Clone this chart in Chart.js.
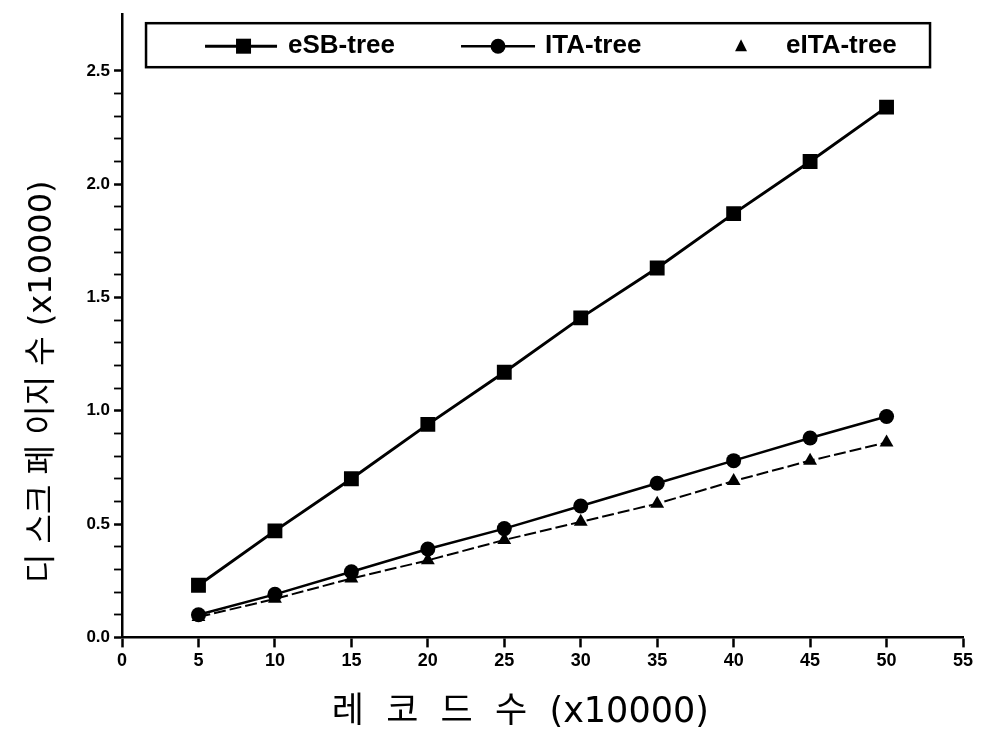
<!DOCTYPE html>
<html><head><meta charset="utf-8">
<script src="https://cdn.jsdelivr.net/npm/chart.js@4/dist/chart.umd.min.js"></script>
<style>html,body{margin:0;padding:0;background:#fff}#wrap{width:990px;height:737px}</style>
</head><body><div id="wrap"><canvas id="c" width="990" height="737"></canvas></div>
<script>
const records = [5, 10, 15, 20, 25, 30, 35, 40, 45, 50];
const esbTree = [0.23, 0.47, 0.70, 0.94, 1.17, 1.41, 1.63, 1.87, 2.10, 2.34];
const itaTree = [0.10, 0.19, 0.29, 0.39, 0.48, 0.58, 0.68, 0.78, 0.88, 0.975];
const eitaTree = [0.09, 0.17, 0.26, 0.34, 0.43, 0.51, 0.59, 0.69, 0.78, 0.86];
const seriesNames = ['eSB-tree', 'ITA-tree', 'eITA-tree'];
const xTickLabels = [0, 5, 10, 15, 20, 25, 30, 35, 40, 45, 50, 55];
const yTickLabels = [0.0, 0.5, 1.0, 1.5, 2.0, 2.5];
// trailing spaces nudge the centred titles to where the reference places them
const xTitle = '레  코  드  수  (x10000)    ';
const yTitle = '디 스크 페 이지 수 (x10000)           ';

const pts = (ys) => records.map((x, i) => ({x: x, y: ys[i]}));
const isMajorY = (v) => yTickLabels.some(t => Math.abs(t - v) < 1e-6);
const titleFont = '"DejaVu Sans", "Noto Sans CJK KR", sans-serif';

const bgPlugin = {
  id: 'bg',
  beforeDraw(chart) {
    const c = chart.ctx; c.save(); c.fillStyle = '#fff';
    c.fillRect(0, 0, chart.width, chart.height); c.restore();
  }
};

const legendBox = {
  id: 'legendBox',
  afterDraw(chart) {
    const c = chart.ctx, a = chart.chartArea;
    const L = a.left + 24, T = a.top + 9, R = a.left + 808, B = a.top + 53;
    c.save();
    c.strokeStyle = '#000'; c.lineWidth = 2.5;
    c.fillStyle = '#fff';
    c.fillRect(L, T, R - L, B - T);
    c.strokeRect(L, T, R - L, B - T);
    const cy = (T + B) / 2 + 1;
    c.font = 'bold 26px "Liberation Sans", Arial, sans-serif';
    c.textBaseline = 'middle'; c.fillStyle = '#000';
    // eSB
    c.lineWidth = 3; c.beginPath(); c.moveTo(L + 59, cy); c.lineTo(L + 131, cy); c.stroke();
    c.fillRect(L + 90, cy - 7.5, 15, 15);
    c.fillText(chart.data.datasets[0].label, L + 142, cy);
    // ITA
    c.lineWidth = 2.5; c.beginPath(); c.moveTo(L + 315, cy); c.lineTo(L + 389, cy); c.stroke();
    c.beginPath(); c.arc(L + 352, cy, 7.5, 0, Math.PI * 2); c.fill();
    c.fillText(chart.data.datasets[1].label, L + 399, cy);
    // eITA
    const tx = L + 595;
    c.beginPath(); c.moveTo(tx, cy - 7); c.lineTo(tx + 6, cy + 5); c.lineTo(tx - 6, cy + 5); c.closePath(); c.fill();
    c.fillText(chart.data.datasets[2].label, L + 640, cy);
    c.restore();
  }
};

new Chart(document.getElementById('c'), {
  type: 'line',
  data: {
    datasets: [
      {label: seriesNames[0], data: pts(esbTree), borderColor: '#000', backgroundColor: '#000',
       borderWidth: 3, pointStyle: 'rect', pointRadius: 10.5, pointBorderWidth: 0, tension: 0},
      {label: seriesNames[1], data: pts(itaTree), borderColor: '#000', backgroundColor: '#000',
       borderWidth: 2.5, pointStyle: 'circle', pointRadius: 7.5, pointBorderWidth: 0, tension: 0},
      {label: seriesNames[2], data: pts(eitaTree), borderColor: '#000', backgroundColor: '#000',
       borderWidth: 2, borderDash: [12, 4], pointStyle: 'triangle', pointRadius: 8, pointBorderWidth: 0, tension: 0}
    ]
  },
  options: {
    responsive: false,
    animation: false,
    layout: {padding: {top: 11, right: 27, left: 23, bottom: 3}},
    plugins: {legend: {display: false}, tooltip: {enabled: false}},
    scales: {
      x: {
        type: 'linear', min: 0, max: 55,
        afterBuildTicks: (s) => { s.ticks = xTickLabels.map(v => ({value: v})); },
        ticks: {color: '#000', font: {family: '"Liberation Sans", Arial, sans-serif', size: 18, weight: 'bold'},
                padding: 3, maxRotation: 0, autoSkip: false},
        grid: {display: true, drawOnChartArea: false, drawTicks: true, tickLength: 10, tickColor: '#000', tickWidth: 2.5},
        border: {display: true, color: '#000', width: 2.5},
        title: {display: true, text: xTitle, color: '#000',
                font: {family: titleFont, size: 35}, padding: {top: 17, bottom: 0}}
      },
      y: {
        type: 'linear', min: 0, max: 2.75,
        ticks: {stepSize: 0.1, color: '#000', autoSkip: false,
                font: {family: '"Liberation Sans", Arial, sans-serif', size: 17, weight: 'bold'},
                padding: 4,
                callback: (v) => isMajorY(v) ? Number(v).toFixed(1) : ''},
        grid: {display: true, drawOnChartArea: false, drawTicks: true, tickLength: 8,
               tickColor: (ctx) => (ctx.tick && ctx.tick.value > 2.5 + 1e-6) ? 'rgba(0,0,0,0)' : '#000',
               tickWidth: (ctx) => (ctx.tick && isMajorY(ctx.tick.value)) ? 2.5 : 1.8},
        border: {display: true, color: '#000', width: 2.5},
        title: {display: true, text: yTitle, color: '#000',
                font: {family: titleFont, size: 32}, padding: {top: 0, bottom: 21}}
      }
    }
  },
  plugins: [bgPlugin, legendBox]
});
</script>
</body></html>
